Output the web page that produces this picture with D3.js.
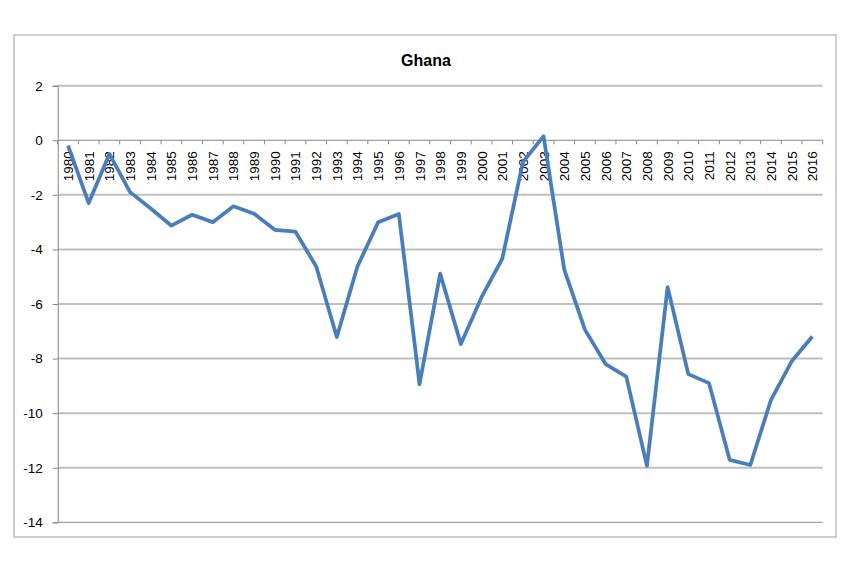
<!DOCTYPE html>
<html><head><meta charset="utf-8">
<script src="https://cdn.jsdelivr.net/npm/d3@7"></script>
<style>body{margin:0;background:#fff;}svg{display:block;}</style>
</head><body>
<script>
const years = ["1980","1981","1982","1983","1984","1985","1986","1987","1988","1989","1990","1991","1992","1993","1994","1995","1996","1997","1998","1999","2000","2001","2002","2003","2004","2005","2006","2007","2008","2009","2010","2011","2012","2013","2014","2015","2016"];
const values = [-0.2,-2.3,-0.5,-1.9,-2.5,-3.13,-2.73,-3.0,-2.42,-2.69,-3.28,-3.35,-4.62,-7.21,-4.62,-3.0,-2.7,-8.94,-4.89,-7.47,-5.75,-4.35,-0.8,0.15,-4.74,-6.94,-8.2,-8.66,-11.93,-5.38,-8.57,-8.9,-11.71,-11.9,-9.51,-8.1,-7.19];
const yTicks = [2,0,-2,-4,-6,-8,-10,-12,-14];
const title = "Ghana";

(function(){
const W = 842, H = 567;
const svg = d3.select("body").append("svg").attr("width", W).attr("height", H);

svg.append("rect").attr("x",14).attr("y",35).attr("width",822).attr("height",502)
  .attr("fill","#fff").attr("stroke","#bfbfbf").attr("stroke-width",1.5);

svg.append("text").attr("x",426).attr("y",66).attr("text-anchor","middle")
  .attr("font-family","Liberation Sans, Arial, sans-serif").attr("font-weight","bold")
  .attr("font-size",16).attr("fill","#000").text(title);

const pL = 57.7, pR = 822.7, pT = 85.7, pB = 522.3;
const x = d3.scaleBand().domain(years).range([pL, pR]);
const y = d3.scaleLinear().domain([-14, 2]).range([pB, pT]);

svg.append("g").selectAll("line").data(yTicks.filter(d => d !== 0 && d !== -14)).join("line")
  .attr("x1", pL).attr("x2", pR).attr("y1", d => y(d)).attr("y2", d => y(d))
  .attr("stroke","#bfbfbf").attr("stroke-width",2);
svg.append("line").attr("x1",pL).attr("x2",pR).attr("y1",y(-14)).attr("y2",y(-14))
  .attr("stroke","#8c8c8c").attr("stroke-width",1);

const yAxis = d3.axisLeft(y).tickValues(yTicks).tickSize(5).tickPadding(10);
const gy = svg.append("g").attr("transform",`translate(${pL},0)`).call(yAxis);
gy.select(".domain").attr("stroke","#868686");
gy.selectAll(".tick line").attr("stroke","#868686");
gy.selectAll("text").attr("font-family","Liberation Sans, Arial, sans-serif").attr("font-size",13.5).attr("fill","#000")
  .text(d => d < 0 ? "-" + Math.abs(d) : d);

const gx = svg.append("g").attr("transform",`translate(0,${y(0)})`);
gx.append("line").attr("x1",pL).attr("x2",pR).attr("stroke","#868686").attr("stroke-width",1);
const bounds = years.map(d => x(d)).concat([pR]);
gx.selectAll("line.tk").data(bounds).join("line").attr("class","tk")
  .attr("x1",d=>d).attr("x2",d=>d).attr("y1",0).attr("y2",4).attr("stroke","#868686");
gx.selectAll("text").data(years).join("text")
  .attr("transform", d => `translate(${x(d)+x.bandwidth()/2+5},11) rotate(-90)`)
  .attr("text-anchor","end")
  .attr("font-family","Liberation Sans, Arial, sans-serif").attr("font-size",13.5).attr("fill","#000")
  .text(d => d);

const line = d3.line().x((d,i) => x(years[i]) + x.bandwidth()/2).y(d => y(d));
svg.append("path").datum(values).attr("d", line).attr("fill","none")
  .attr("stroke","#4a7ebb").attr("stroke-width",3.75).attr("stroke-linejoin","round");
})();
</script>
</body></html>
